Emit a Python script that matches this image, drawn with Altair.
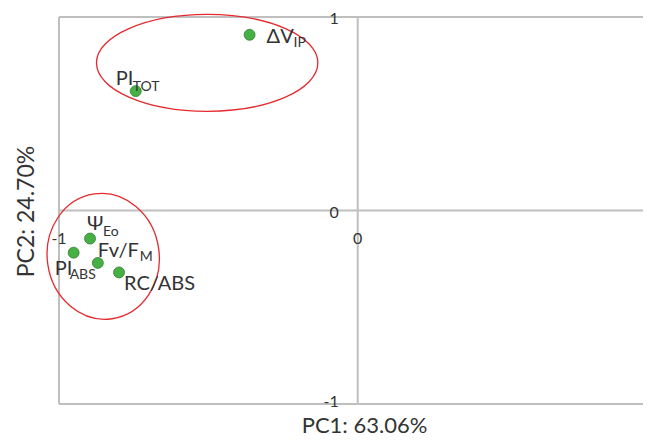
import altair as alt
import pandas as pd

# ---- data ----
names = ["dVIP", "PItot", "PsiEo", "PIabs", "FvFm", "RCABS"]
main_text = ["ΔV", "PI", "Ψ", "PI", "Fv/F", "RC/ABS"]
sub_text = ["IP", "TOT", "Eo", "ABS", "M", ""]
pc1 = [-0.362, -0.743, -0.896, -0.951, -0.870, -0.799]
pc2 = [0.908, 0.617, -0.145, -0.218, -0.271, -0.320]

x_grid = [-1, 0]
y_grid = [-1, 0, 1]
x_tick_labels = ["-1", "0"]
y_tick_labels = ["-1", "0", "1"]

group_names = ["upper", "lower"]
group_cx = [-0.504, -0.852]
group_cy = [0.763, -0.237]

# ---- styles ----
FONT = "Lato"
TXT = "#333333"
GRID = "#BFBFBF"
RED = "#E52A2E"
GREEN = "#46B044"

# ellipse outlines (shape paths, pixel sizes, rotation)
ell_style = {
    "upper": dict(shape="M-1,0A1,0.438,0,1,1,1,0A1,0.438,0,1,1,-1,0Z", size=49018, angle=0),
    "lower": dict(shape="M-1,0A1,1.125,0,1,1,1,0A1,1.125,0,1,1,-1,0Z", size=12544, angle=352),
}
# label offsets in pixels: (main dx, main dy, sub dx, sub dy)
lab_off = {
    "dVIP": (17, 8, 44, 12),
    "PItot": (-20, -6, -3, 0),
    "PsiEo": (-3, -9, 13, -3),
    "PIabs": (-19, 22, -4, 26),
    "FvFm": (0, -6, 42, -2),
    "RCABS": (5, 18, 0, 0),
}

pts = pd.DataFrame({"name": names, "main": main_text, "sub": sub_text, "pc1": pc1, "pc2": pc2})
gx = pd.DataFrame({"v": x_grid, "lab": x_tick_labels, "zero": [0] * len(x_grid)})
gy = pd.DataFrame({"v": y_grid, "lab": y_tick_labels, "zero": [0] * len(y_grid)})
ell = pd.DataFrame({"g": group_names, "cx": group_cx, "cy": group_cy})

xscale = alt.Scale(domain=[-1, 0.955], nice=False, zero=False)
yscale = alt.Scale(domain=[-1, 1], nice=False, zero=False)
xaxis = alt.Axis(title="PC1: 63.06%", labels=False, ticks=False, domain=False, grid=False,
                 titleFont=FONT, titleFontSize=22, titleFontWeight="normal", titleColor=TXT,
                 titleX=305, titleY=28, titleBaseline="alphabetic", titleAlign="center")
yaxis = alt.Axis(title="PC2: 24.70%", labels=False, ticks=False, domain=False, grid=False,
                 titleFont=FONT, titleFontSize=23, titleFontWeight="normal", titleColor=TXT,
                 titleAngle=270, titleX=-26, titleY=194, titleBaseline="alphabetic", titleAlign="center")


def X(f):
    return alt.X(f, type="quantitative", scale=xscale, axis=xaxis)


def Y(f):
    return alt.Y(f, type="quantitative", scale=yscale, axis=yaxis)


layers = []
# gridlines / frame
layers.append(alt.Chart(gx).mark_rule(color=GRID, strokeWidth=2).encode(x=X("v")))
layers.append(alt.Chart(gy).mark_rule(color=GRID, strokeWidth=2).encode(y=Y("v")))

# tick labels next to the crossing axes
layers.append(alt.Chart(gx).mark_text(font=FONT, fontSize=16, color=TXT, align="center",
                                       baseline="middle", dy=28).encode(x=X("v"), y=Y("zero"), text="lab:N"))
layers.append(alt.Chart(gy).transform_filter(alt.datum.v >= 0)
              .mark_text(font=FONT, fontSize=16, color=TXT, align="right", baseline="middle", dx=-19, dy=2)
              .encode(x=X("zero"), y=Y("v"), text="lab:N"))
layers.append(alt.Chart(gy).transform_filter(alt.datum.v < 0)
              .mark_text(font=FONT, fontSize=16, color=TXT, align="right", baseline="middle", dx=-19, dy=-2)
              .encode(x=X("zero"), y=Y("v"), text="lab:N"))

# ellipses
for g in group_names:
    st = ell_style[g]
    layers.append(
        alt.Chart(ell).transform_filter(alt.datum.g == g)
        .mark_point(shape=st["shape"], size=st["size"], angle=st["angle"], filled=False,
                    color=RED, strokeWidth=1.3, opacity=1)
        .encode(x=X("cx"), y=Y("cy"))
    )

# points
layers.append(alt.Chart(pts).mark_point(filled=True, size=120, color=GREEN, stroke="#2E7F2E",
                                         strokeWidth=0.8, opacity=1, shape="circle")
              .encode(x=X("pc1"), y=Y("pc2")))

# labels with subscripts
for n in names:
    mdx, mdy, sdx, sdy = lab_off[n]
    base = alt.Chart(pts).transform_filter(alt.datum.name == n)
    layers.append(base.mark_text(font=FONT, fontSize=20, color=TXT, align="left", baseline="alphabetic",
                                 dx=mdx, dy=mdy).encode(x=X("pc1"), y=Y("pc2"), text="main:N"))
    layers.append(base.mark_text(font=FONT, fontSize=14, color=TXT, align="left", baseline="alphabetic",
                                 dx=sdx, dy=sdy).encode(x=X("pc1"), y=Y("pc2"), text="sub:N"))

chart = alt.layer(*layers).properties(
    width=584, height=387,
    autosize=alt.AutoSizeParams(type="none"),
    padding={"left": 51, "top": 9, "right": 0, "bottom": 32},
).configure_view(stroke=None).configure(background="white")

chart.save("out.html", embed_options={"renderer": "svg", "actions": False})
